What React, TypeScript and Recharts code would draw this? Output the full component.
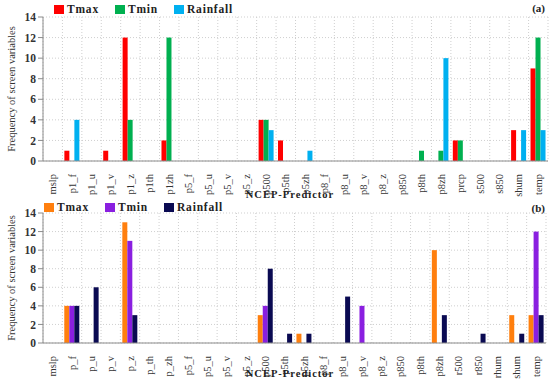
import { Bar, BarChart, CartesianGrid, XAxis, YAxis } from 'recharts'

const categoriesA = ['mslp', 'p1_f', 'p1_u', 'p1_v', 'p1_z', 'p1th', 'p1zh', 'p5_f', 'p5_u', 'p5_v', 'p5_z', 'p500', 'p5th', 'p5zh', 'p8_f', 'p8_u', 'p8_v', 'p8_z', 'p850', 'p8th', 'p8zh', 'prcp', 's500', 's850', 'shum', 'temp']
const tmaxA = [0, 1, 0, 1, 12, 0, 2, 0, 0, 0, 0, 4, 2, 0, 0, 0, 0, 0, 0, 0, 0, 2, 0, 0, 3, 9]
const tminA = [0, 0, 0, 0, 4, 0, 12, 0, 0, 0, 0, 4, 0, 0, 0, 0, 0, 0, 0, 1, 1, 2, 0, 0, 0, 12]
const rainA = [0, 4, 0, 0, 0, 0, 0, 0, 0, 0, 0, 3, 0, 1, 0, 0, 0, 0, 0, 0, 10, 0, 0, 0, 3, 3]

const categoriesB = ['mslp', 'p_f', 'p_u', 'p_v', 'p_z', 'p_th', 'p_zh', 'p5_f', 'p5_u', 'p5_v', 'p5_z', 'p500', 'p5th', 'p5zh', 'p8_f', 'p8_u', 'p8_v', 'p8_z', 'p850', 'p8th', 'p8zh', 'r500', 'r850', 'rhum', 'shum', 'temp']
const tmaxB = [0, 4, 0, 0, 13, 0, 0, 0, 0, 0, 0, 3, 0, 1, 0, 0, 0, 0, 0, 0, 10, 0, 0, 0, 3, 3]
const tminB = [0, 4, 0, 0, 11, 0, 0, 0, 0, 0, 0, 4, 0, 0, 0, 0, 4, 0, 0, 0, 0, 0, 0, 0, 0, 12]
const rainB = [0, 4, 6, 0, 3, 0, 0, 0, 0, 0, 0, 8, 1, 1, 0, 5, 0, 0, 0, 0, 3, 0, 1, 0, 1, 3]

const seriesNames = ['Tmax', 'Tmin', 'Rainfall']
const yTicks = [0, 2, 4, 6, 8, 10, 12, 14]

const FONT = 'Liberation Serif, Times New Roman, serif'

const buildRows = (cats: string[], tmax: number[], tmin: number[], rain: number[]) =>
	cats.map((name, i) => ({ name, Tmax: tmax[i], Tmin: tmin[i], Rainfall: rain[i] }))

const XTick = ({ x, y, payload }: any) => (
	<text
		fill="#333"
		fontFamily={FONT}
		fontSize={10.5}
		textAnchor="end"
		dominantBaseline="central"
		transform={`translate(${x},${y + 5}) rotate(-90)`}
	>
		{payload.value}
	</text>
)

interface PanelProps {
	rows: { name: string; Tmax: number; Tmin: number; Rainfall: number }[]
	colors: string[]
	height: number
	top: number
	xHeight: number
	right: number
	legendLeft: number
	legendTop: number
	tag: string
	tagY: number
}

const Panel = ({ rows, colors, height, top, xHeight, right, legendLeft, legendTop, tag, tagY }: PanelProps) => {
	const n = rows.length
	const plotMid = top + (height - top - xHeight) / 2
	return (
		<div style={{ position: 'relative', width: 550, height }}>
			<BarChart
				width={550}
				height={height}
				data={rows}
				margin={{ top, right, left: 0, bottom: 0 }}
				barCategoryGap="10%"
				barGap={0}
			>
				<CartesianGrid
					stroke="#cfcfcf"
					strokeDasharray="1 2"
					verticalCoordinatesGenerator={({ offset }: any) =>
						Array.from({ length: n + 1 }, (_, i) => offset.left + (i * offset.width) / n)
					}
				/>
				<XAxis
					dataKey="name"
					interval={0}
					height={xHeight}
					tick={<XTick />}
					tickLine={false}
					stroke="#8c8c8c"
				/>
				<YAxis
					width={43}
					domain={[0, 14]}
					ticks={yTicks}
					interval={0}
					stroke="#8c8c8c"
					tickSize={5}
					tick={{ fontFamily: FONT, fontWeight: 'bold', fontSize: 11.5, fill: '#333' }}
				/>
				<Bar dataKey="Tmax" fill={colors[0]} isAnimationActive={false} />
				<Bar dataKey="Tmin" fill={colors[1]} isAnimationActive={false} />
				<Bar dataKey="Rainfall" fill={colors[2]} isAnimationActive={false} />
			</BarChart>
			<svg width={550} height={height} style={{ position: 'absolute', left: 0, top: 0, pointerEvents: 'none' }}>
				<text
					x={11}
					y={plotMid}
					textAnchor="middle"
					dominantBaseline="central"
					transform={`rotate(-90, 11, ${plotMid})`}
					fontFamily={FONT}
					fontSize={10.5}
					fill="#333"
				>
					Frequency of screen variables
				</text>
				<text
					x={290}
					y={height - 2}
					textAnchor="middle"
					fontFamily={FONT}
					fontWeight="bold"
					fontSize={10.5}
					letterSpacing={1}
					fill="#222"
				>
					NCEP-Predictor
				</text>
				<text
					x={545}
					y={tagY}
					textAnchor="end"
					fontFamily={FONT}
					fontWeight="bold"
					fontSize={11}
					fill="#222"
				>
					{tag}
				</text>
			</svg>
			<div
				style={{
					position: 'absolute',
					left: legendLeft,
					top: legendTop,
					display: 'flex',
					fontFamily: FONT,
					fontWeight: 'bold',
					fontSize: 11.5,
					letterSpacing: 0.8,
					lineHeight: '14px',
					color: '#222',
				}}
			>
				{seriesNames.map((s, i) => (
					<div key={s} style={{ display: 'flex', alignItems: 'center', marginRight: 16 }}>
						<span style={{ width: 10, height: 9, background: colors[i], display: 'inline-block', marginRight: 3 }} />
						{s}
					</div>
				))}
			</div>
		</div>
	)
}

export default function App() {
	return (
		<div style={{ position: 'absolute', left: 0, top: 0, width: 550, height: 379, background: '#fff' }}>
			<Panel
				rows={buildRows(categoriesA, tmaxA, tminA, rainA)}
				colors={['#ff0000', '#00b050', '#00b0f0']}
				height={200}
				top={17}
				xHeight={39}
				right={2}
				legendLeft={54}
				legendTop={2}
				tag="(a)"
				tagY={12}
			/>
			<Panel
				rows={buildRows(categoriesB, tmaxB, tminB, rainB)}
				colors={['#ff7f0e', '#8a1fe0', '#0a0a52']}
				height={179}
				top={13}
				xHeight={36}
				right={4}
				legendLeft={44}
				legendTop={0}
				tag="(b)"
				tagY={12}
			/>
		</div>
	)
}
